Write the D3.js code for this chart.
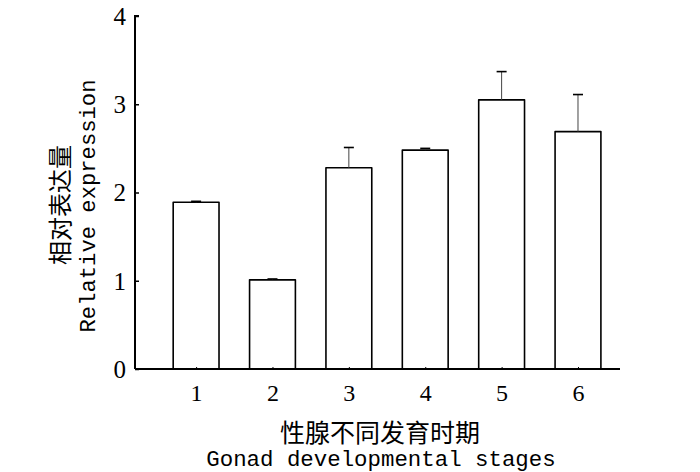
<!DOCTYPE html>
<html><head><meta charset="utf-8">
<script src="https://cdn.jsdelivr.net/npm/d3@7"></script>
<style>body{margin:0;background:#fff}svg{display:block}</style>
</head><body>
<script>
const categories = [1, 2, 3, 4, 5, 6];
const values = [1.89, 1.01, 2.28, 2.48, 3.05, 2.69];
const errors = [0.01, 0.01, 0.23, 0.02, 0.32, 0.42];
const yTicks = [0, 1, 2, 3, 4];
const xTitleZh = "性腺不同发育时期";
const xTitleEn = "Gonad developmental stages";
const yTitleZh = "相对表达量";
const yTitleEn = "Relative expression";

const W = 700, H = 472;
const svg = d3.select("body").append("svg").attr("width", W).attr("height", H);
const x = d3.scaleLinear().domain([0.2, 6.55]).range([135, 620]);
const y = d3.scaleLinear().domain([0, 4]).range([369, 16]);
const bw = 0.6;

const data = categories.map((c, i) => ({c, v: values[i], e: errors[i]}));

// bars
svg.selectAll("rect.bar").data(data).enter().append("rect")
  .attr("x", d => x(d.c - bw/2)).attr("width", x(bw) - x(0))
  .attr("y", d => y(d.v)).attr("height", d => y(0) - y(d.v))
  .attr("fill", "#fff").attr("stroke", "#000").attr("stroke-width", 1.6)
  .attr("stroke-linejoin", "round");

// error bars
svg.selectAll("line.err").data(data).enter().append("line")
  .attr("x1", d => x(d.c)).attr("x2", d => x(d.c))
  .attr("y1", d => y(d.v)).attr("y2", d => y(d.v + d.e))
  .attr("stroke", "#444").attr("stroke-width", 1);
svg.selectAll("line.cap").data(data).enter().append("line")
  .attr("x1", d => x(d.c) - 5).attr("x2", d => x(d.c) + 5)
  .attr("y1", d => y(d.v + d.e)).attr("y2", d => y(d.v + d.e))
  .attr("stroke", "#000").attr("stroke-width", 1.6);

// axes
const yAxis = d3.axisRight(y).tickValues(yTicks).tickSize(4).tickFormat(d3.format("d"));
const gy = svg.append("g").attr("transform", `translate(${x.range()[0]},0)`).call(yAxis);
gy.select(".domain").attr("stroke-width", 2).attr("d", `M4,${y(4)}H0V${y(0)}`);
gy.selectAll(".tick line").attr("stroke-width", 1.5);
gy.selectAll(".tick text").attr("x", -9).attr("text-anchor", "end")
  .attr("font-family", "Liberation Serif, serif").attr("font-size", 25).attr("dy", "0.33em");

const xAxis = d3.axisTop(x).tickValues(categories).tickSize(2).tickFormat(d3.format("d"));
const gx = svg.append("g").attr("transform", `translate(0,${y(0)})`).call(xAxis);
gx.select(".domain").attr("stroke-width", 2).attr("d", `M${x.range()[0]},0H${x.range()[1]}`);
gx.selectAll(".tick text").attr("y", 32).attr("dy", 0)
  .attr("font-family", "Liberation Serif, serif").attr("font-size", 24);

// titles
svg.append("text").attr("x", 380).attr("y", 442).attr("text-anchor", "middle")
  .attr("font-family", "Noto Sans CJK SC").attr("font-size", 25).text(xTitleZh);
svg.append("text").attr("x", 381).attr("y", 466).attr("text-anchor", "middle")
  .attr("font-family", "Liberation Mono, monospace").attr("font-size", 22.4).text(xTitleEn);
svg.append("text").attr("transform", "translate(69,205) rotate(-90)").attr("text-anchor", "middle")
  .attr("font-family", "Noto Sans CJK SC").attr("font-size", 24).text(yTitleZh);
svg.append("text").attr("transform", "translate(95,206) rotate(-90)").attr("text-anchor", "middle")
  .attr("font-family", "Liberation Mono, monospace").attr("font-size", 22.2).text(yTitleEn);
</script>
</body></html>
